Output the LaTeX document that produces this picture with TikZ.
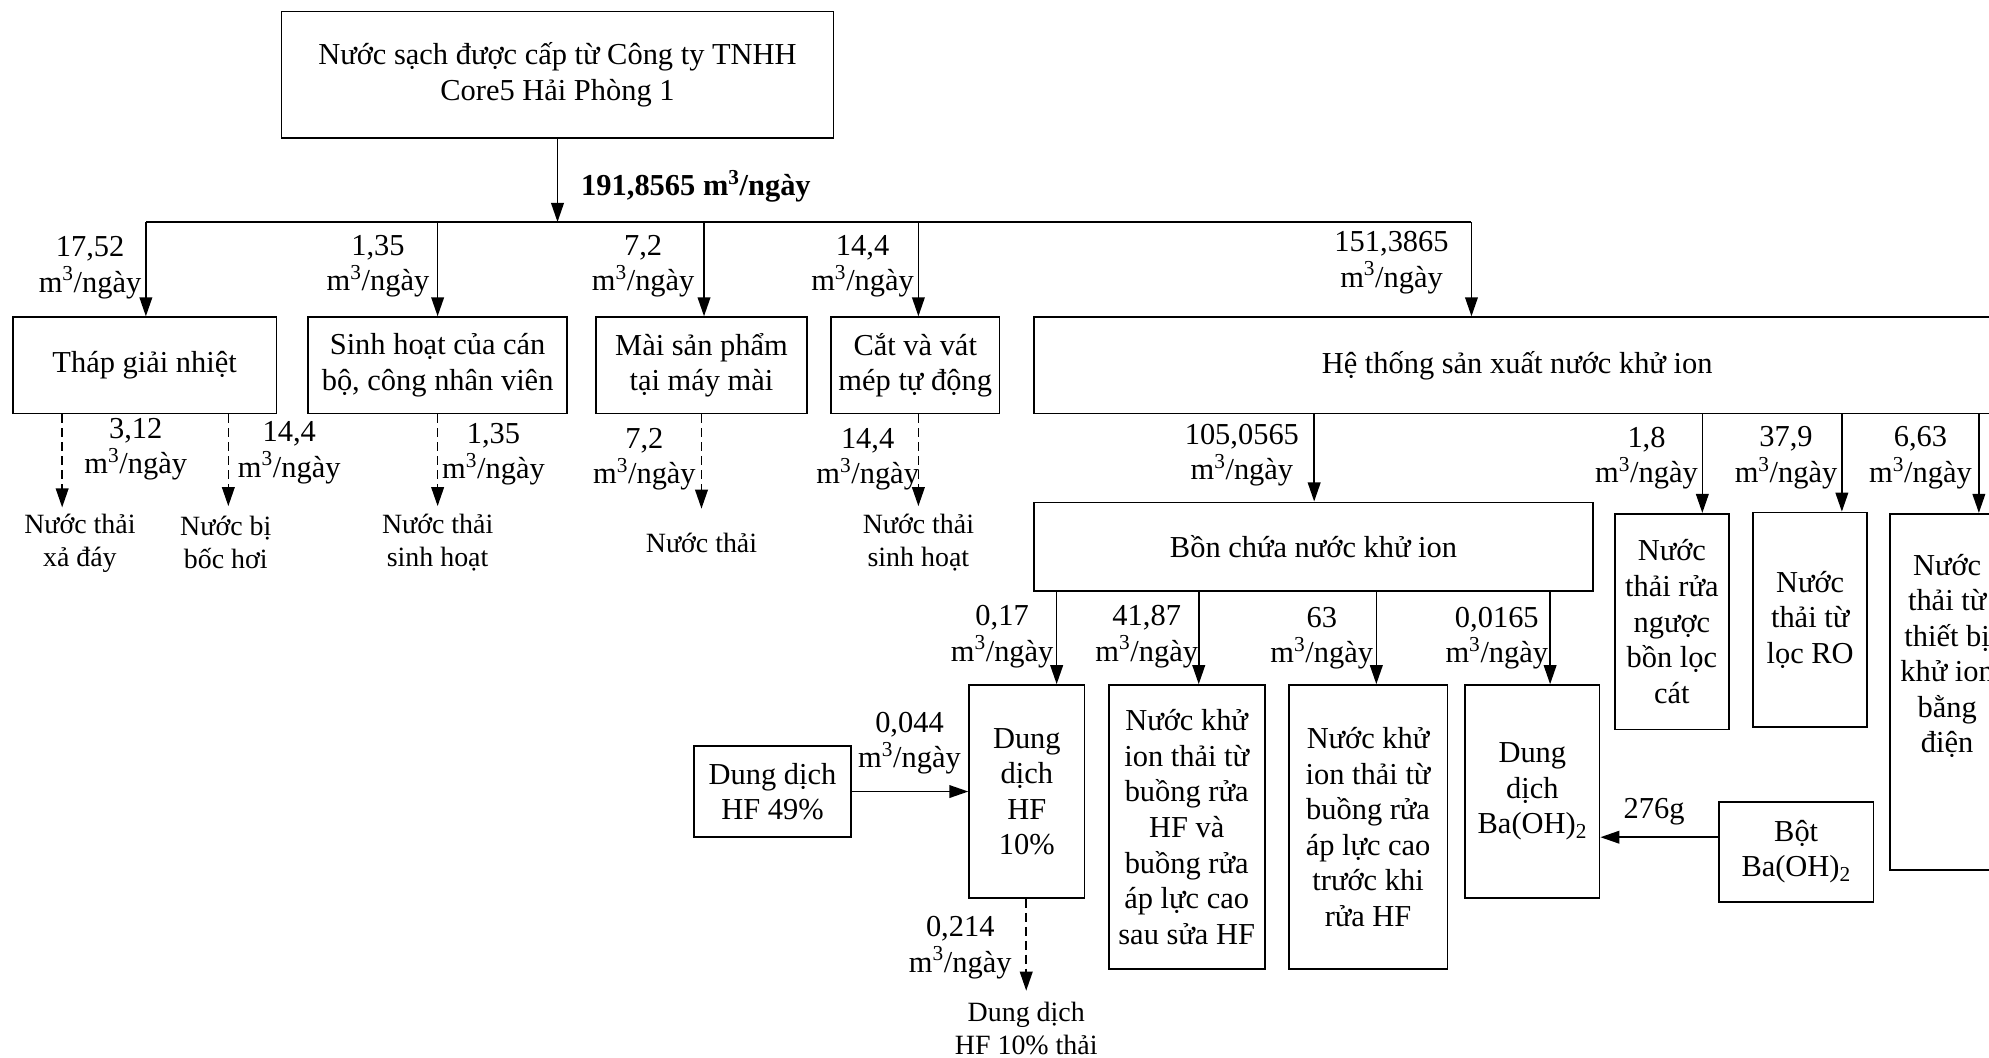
\documentclass[tikz,border=0pt]{standalone}
\usepackage{fontspec}
\setmainfont{Liberation Serif}
\usetikzlibrary{arrows.meta}
\newcommand\fsz{\fontsize{24pt}{28pt}\selectfont}
\newcommand\fsw{\fontsize{22pt}{26pt}\selectfont}
\newcommand\mpd{m\textsuperscript{3}/ngày}
\tikzset{
  box/.style={draw, line width=1.3pt, inner sep=0pt, align=center, font=\fsz},
  lbl/.style={inner sep=0pt, align=center, font=\fsz},
  endtxt/.style={inner sep=0pt, align=center, font=\fsw},
  flow/.style={line width=1.3pt, -{Triangle[length=15pt,width=10pt]}},
  waste/.style={flow, dash pattern=on 7pt off 4pt},
  line/.style={line width=1.3pt}
}
\begin{document}
\begin{tikzpicture}[x=1pt, y=-1pt]
\useasboundingbox (0,0) rectangle (1568,834);
\fill[white] (0,0) rectangle (1568,834);
\clip (0,0) rectangle (1568,834);

% source
\node[box, minimum width=435pt, minimum height=100pt] (src) at (439.5,59)
  {Nước sạch được cấp từ Công ty TNHH\\Core5 Hải Phòng 1};

% distribution bus
\coordinate (b1) at (115,175);
\coordinate (b2) at (345,175);
\coordinate (b3) at (555,175);
\coordinate (b4) at (724,175);
\coordinate (b5) at (1160,175);
\draw[line] (b1) -- (b5);
\draw[flow] (src.south) -- (src.south |- b1);
\node[lbl, anchor=west] (ltot) at (458,147) {\textbf{191,8565 m\textsuperscript{3}/ngày}};

% first-level users
\node[box, minimum width=208pt, minimum height=76pt] (thap) at (114,288) {Tháp giải nhiệt};
\node[box, minimum width=204pt, minimum height=76pt] (sinh) at (345,288) {Sinh hoạt của cán\\bộ, công nhân viên};
\node[box, minimum width=166pt, minimum height=76pt] (mai) at (553,288) {Mài sản phẩm\\tại máy mài};
\node[box, minimum width=133pt, minimum height=76pt] (cat) at (721.5,288) {Cắt và vát\\mép tự động};
\node[box, minimum width=762pt, minimum height=76pt] (he) at (1196,288) {Hệ thống sản xuất nước khử ion};

\draw[flow] (b1) -- (b1 |- thap.north);
\draw[flow] (b2) -- (b2 |- sinh.north);
\draw[flow] (b3) -- (b3 |- mai.north);
\draw[flow] (b4) -- (b4 |- cat.north);
\draw[flow] (b5) -- (b5 |- he.north);

\node[lbl] (l1) at (71,211) {17,52\\\mpd};
\node[lbl] (l2) at (298,210) {1,35\\\mpd};
\node[lbl] (l3) at (507,210) {7,2\\\mpd};
\node[lbl] (l4) at (680,210) {14,4\\\mpd};
\node[lbl] (l5) at (1097,207) {151,3865\\\mpd};

% outflows of the first-level users
\coordinate (e1) at (49,400);
\coordinate (e2) at (180,399);
\coordinate (e3) at (345,399);
\coordinate (e4) at (553,401);
\coordinate (e5) at (724,399);
\draw[waste] (e1 |- thap.south) -- (e1);
\draw[waste] (e2 |- thap.south) -- (e2);
\draw[waste] (e3 |- sinh.south) -- (e3);
\draw[waste] (e4 |- mai.south) -- (e4);
\draw[waste] (e5 |- cat.south) -- (e5);

\node[lbl] (w1) at (107,354) {3,12\\\mpd};
\node[lbl] (w2) at (228,357) {14,4\\\mpd};
\node[lbl] (w3) at (389,358) {1,35\\\mpd};
\node[lbl] (w4) at (508,362) {7,2\\\mpd};
\node[lbl] (w5) at (684,362) {14,4\\\mpd};

\node[endtxt] (o1) at (63,428) {Nước thải\\xả đáy};
\node[endtxt] (o2) at (178,428) {Nước bị\\bốc hơi};
\node[endtxt] (o3) at (345,428) {Nước thải\\sinh hoạt};
\node[endtxt] (o4) at (553,428) {Nước thải};
\node[endtxt] (o5) at (724,428) {Nước thải\\sinh hoạt};

% deionised water system
\node[box, minimum width=441pt, minimum height=70pt] (bon) at (1035.5,431) {Bồn chứa nước khử ion};
\node[box, minimum width=90pt, minimum height=170pt] (rn) at (1318,490) {Nước\\thải rửa\\ngược\\bồn lọc\\cát};
\node[box, minimum width=90pt, minimum height=169pt] (ro) at (1427,488.5) {Nước\\thải từ\\lọc RO};
\node[box, minimum width=90pt, minimum height=281pt] (edi) at (1535,545.5) {};
\node[lbl] (edit) at (1535,517) {Nước\\thải từ\\thiết bị\\khử ion\\bằng\\điện};

\coordinate (h1) at (1036,0);
\coordinate (h2) at (1342,0);
\coordinate (h3) at (1452,0);
\coordinate (h4) at (1560,0);
\draw[flow] (he.south -| h1) -- (bon.north -| h1);
\draw[flow] (he.south -| h2) -- (rn.north -| h2);
\draw[flow] (he.south -| h3) -- (ro.north -| h3);
\draw[flow] (he.south -| h4) -- (edi.north -| h4);

\node[lbl] (lh1) at (979,359) {105,0565\\\mpd};
\node[lbl] (lh2) at (1298,361) {1,8\\\mpd};
\node[lbl] (lh3) at (1408,361) {37,9\\\mpd};
\node[lbl] (lh4) at (1514,361) {6,63\\\mpd};

% uses of the deionised water
\node[box, minimum width=91pt, minimum height=168pt] (hf10) at (809.5,624) {Dung\\dịch\\HF\\10\%};
\node[box, minimum width=123pt, minimum height=224pt] (k1) at (935.5,652)
  {Nước khử\\ion thải từ\\buồng rửa\\HF và\\buồng rửa\\áp lực cao\\sau sửa HF};
\node[box, minimum width=125pt, minimum height=224pt] (k2) at (1078.5,652)
  {Nước khử\\ion thải từ\\buồng rửa\\áp lực cao\\trước khi\\rửa HF};
\node[box, minimum width=106pt, minimum height=168pt] (ba) at (1208,624) {Dung\\dịch\\Ba(OH)\textsubscript{2}};

\coordinate (c1) at (833,0);
\coordinate (c2) at (945,0);
\coordinate (c3) at (1085,0);
\coordinate (c4) at (1222,0);
\draw[flow] (bon.south -| c1) -- (hf10.north -| c1);
\draw[flow] (bon.south -| c2) -- (k1.north -| c2);
\draw[flow] (bon.south -| c3) -- (k2.north -| c3);
\draw[flow] (bon.south -| c4) -- (ba.north -| c4);

\node[lbl] (lc1) at (790,502) {0,17\\\mpd};
\node[lbl] (lc2) at (904,502) {41,87\\\mpd};
\node[lbl] (lc3) at (1042,503) {63\\\mpd};
\node[lbl] (lc4) at (1180,503) {0,0165\\\mpd};

% chemicals
\node[box, minimum width=124pt, minimum height=72pt] (hf49) at (609,624) {Dung dịch\\HF 49\%};
\draw[flow] (hf49.east) -- (hf10.west);
\node[lbl] (lhf) at (717,586) {0,044\\\mpd};

\node[box, minimum width=122pt, minimum height=79pt] (bot) at (1416,671.5) {Bột\\Ba(OH)\textsubscript{2}};
\draw[flow] ([yshift=11.5pt]bot.west) -- ([yshift=11.5pt]bot.west -| ba.east);
\node[lbl] (lbo) at (1304,640) {276g};

% spent HF solution
\coordinate (e6) at (809,781);
\draw[waste] (e6 |- hf10.south) -- (e6);
\node[lbl] (w6) at (757,747) {0,214\\\mpd};
\node[endtxt] (o6) at (809,811) {Dung dịch\\HF 10\% thải};
\end{tikzpicture}
\end{document}
